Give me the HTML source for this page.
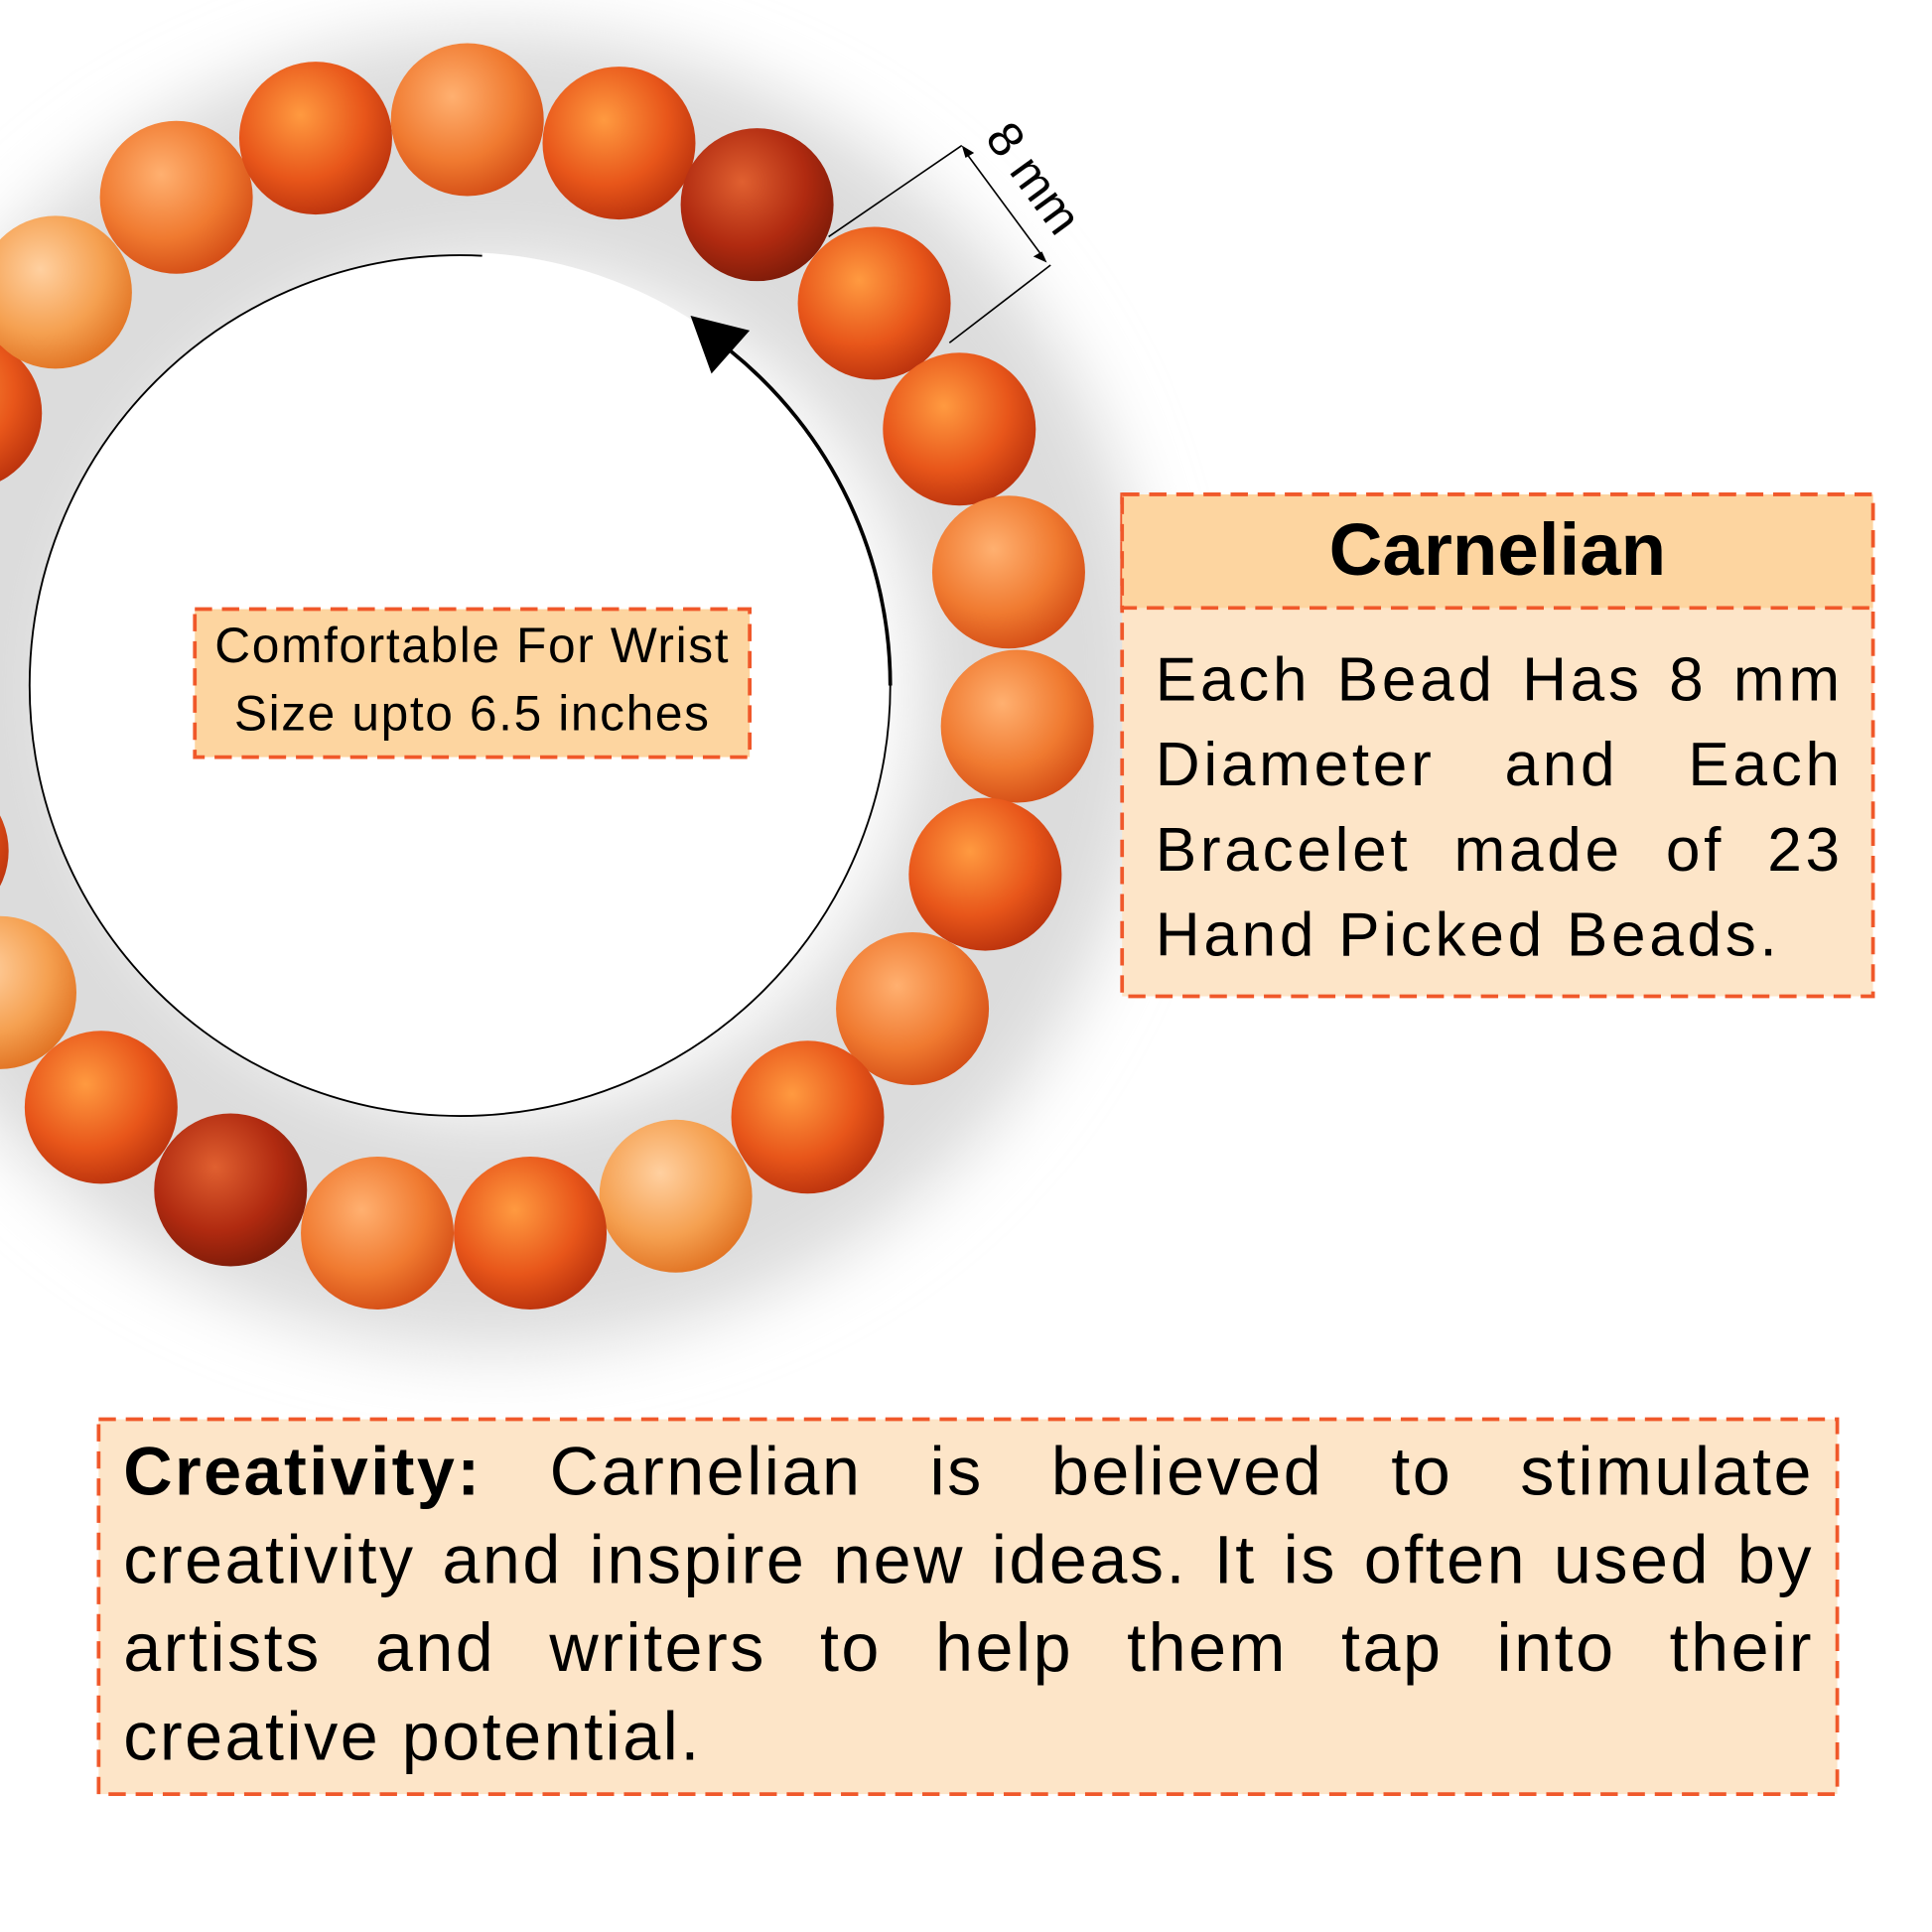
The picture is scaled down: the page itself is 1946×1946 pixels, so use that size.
<!DOCTYPE html>
<html><head><meta charset="utf-8"><style>
html,body{margin:0;padding:0;background:#fff;}
#w{position:relative;width:1567px;height:1567px;transform:scale(1.242);transform-origin:0 0;overflow:hidden;font-family:"Liberation Sans",sans-serif;}
svg{position:absolute;left:0;top:0;}
.box{position:absolute;box-sizing:border-box;}
.j{text-align:justify;text-align-last:justify;}
</style></head><body><div id="w">
<svg width="1567" height="1567" viewBox="0 0 1567 1567">
<defs>
<filter id="bl" x="-50%" y="-50%" width="200%" height="200%"><feGaussianBlur stdDeviation="28"/></filter>
<radialGradient id="g1" cx="40%" cy="35%" r="70%"><stop offset="0" stop-color="#ff9a40"/><stop offset="0.6" stop-color="#e8561a"/><stop offset="1" stop-color="#b8300c"/></radialGradient>
<radialGradient id="g2" cx="40%" cy="35%" r="70%"><stop offset="0" stop-color="#ffd0a0"/><stop offset="0.6" stop-color="#f5a050"/><stop offset="1" stop-color="#e07020"/></radialGradient>
<radialGradient id="g3" cx="40%" cy="35%" r="70%"><stop offset="0" stop-color="#e06030"/><stop offset="0.6" stop-color="#b02a10"/><stop offset="1" stop-color="#7a1a08"/></radialGradient>
<radialGradient id="g4" cx="40%" cy="35%" r="70%"><stop offset="0" stop-color="#ffb070"/><stop offset="0.6" stop-color="#f07a30"/><stop offset="1" stop-color="#d24a14"/></radialGradient>
</defs>
<circle cx="400" cy="560" r="440" fill="none" stroke="#dcdcdc" stroke-width="190" filter="url(#bl)"/>
<circle cx="373" cy="556" r="349" fill="#fff" stroke="#000" stroke-width="1.5"/>
<path d="M391 207.5 A349 349 0 0 1 568 267" fill="none" stroke="#fff" stroke-width="5"/>
<path d="M722 556 A349 349 0 0 0 592.6 284.8" fill="none" stroke="#000" stroke-width="3"/>
<polygon points="560,256 608,268 577,303" fill="#000"/>
<g>
<circle cx="143" cy="160" r="62" fill="url(#g4)"/>
<circle cx="256" cy="112" r="62" fill="url(#g1)"/>
<circle cx="379" cy="97" r="62" fill="url(#g4)"/>
<circle cx="502" cy="116" r="62" fill="url(#g1)"/>
<circle cx="614" cy="166" r="62" fill="url(#g3)"/>
<circle cx="709" cy="246" r="62" fill="url(#g1)"/>
<circle cx="778" cy="348" r="62" fill="url(#g1)"/>
<circle cx="818" cy="464" r="62" fill="url(#g4)"/>
<circle cx="825" cy="589" r="62" fill="url(#g4)"/>
<circle cx="799" cy="709" r="62" fill="url(#g1)"/>
<circle cx="740" cy="818" r="62" fill="url(#g4)"/>
<circle cx="655" cy="906" r="62" fill="url(#g1)"/>
<circle cx="548" cy="970" r="62" fill="url(#g2)"/>
<circle cx="430" cy="1000" r="62" fill="url(#g1)"/>
<circle cx="306" cy="1000" r="62" fill="url(#g4)"/>
<circle cx="187" cy="965" r="62" fill="url(#g3)"/>
<circle cx="82" cy="898" r="62" fill="url(#g1)"/>
<circle cx="0" cy="805" r="62" fill="url(#g2)"/>
<circle cx="-55" cy="690" r="62" fill="url(#g1)"/>
<circle cx="-28" cy="335" r="62" fill="url(#g1)"/>
<circle cx="45" cy="237" r="62" fill="url(#g2)"/>
</g>
<g stroke="#000" stroke-width="1.3" fill="none">
<line x1="672" y1="192" x2="780" y2="118"/>
<line x1="770" y1="278" x2="852" y2="215"/>
<line x1="782" y1="122" x2="847" y2="210"/>
</g>
<polygon points="780,118 790,124 783,128" fill="#000"/>
<polygon points="849,213 838,208 845,204" fill="#000"/>
<text x="0" y="0" font-family="Liberation Sans" font-size="40" fill="#000" transform="translate(798,112) rotate(54)">8 mm</text>
<g fill="none" stroke="#f0582a" stroke-width="3" stroke-dasharray="14 8">
<rect x="158" y="494" width="450" height="120" fill="#fdd5a0"/>
<rect x="910" y="401" width="609" height="407" fill="#fde5c8"/>
<rect x="910" y="401" width="609" height="92" fill="#fdd5a0"/>
<rect x="80" y="1151" width="1410" height="304" fill="#fde5c8"/>
</g>
</svg>
<div class="box" style="left:157px;top:493px;width:452px;height:122px;font-size:40px;line-height:55px;text-align:center;padding-top:4px;letter-spacing:1.3px;">Comfortable For Wrist<br>Size upto 6.5 inches</div>
<div class="box" style="left:909px;top:400px;width:611px;height:409px;">
<div style="height:92px;text-align:center;font-weight:bold;font-size:60px;line-height:92px;">Carnelian</div>
<div style="padding:25px 25px 0 28px;font-size:50px;line-height:69px;letter-spacing:3px;">
<div class="j">Each Bead Has 8 mm</div><div class="j">Diameter and Each</div><div class="j">Bracelet made of 23</div><div>Hand Picked Beads.</div>
</div></div>
<div class="box" style="left:79px;top:1150px;width:1412px;height:306px;padding:8px 20px 0 21px;font-size:55px;line-height:71.5px;letter-spacing:2px;">
<div class="j"><b>Creativity:</b> Carnelian is believed to stimulate</div>
<div class="j">creativity and inspire new ideas. It is often used by</div>
<div class="j">artists and writers to help them tap into their</div>
<div>creative potential.</div>
</div>
</div></body></html>
